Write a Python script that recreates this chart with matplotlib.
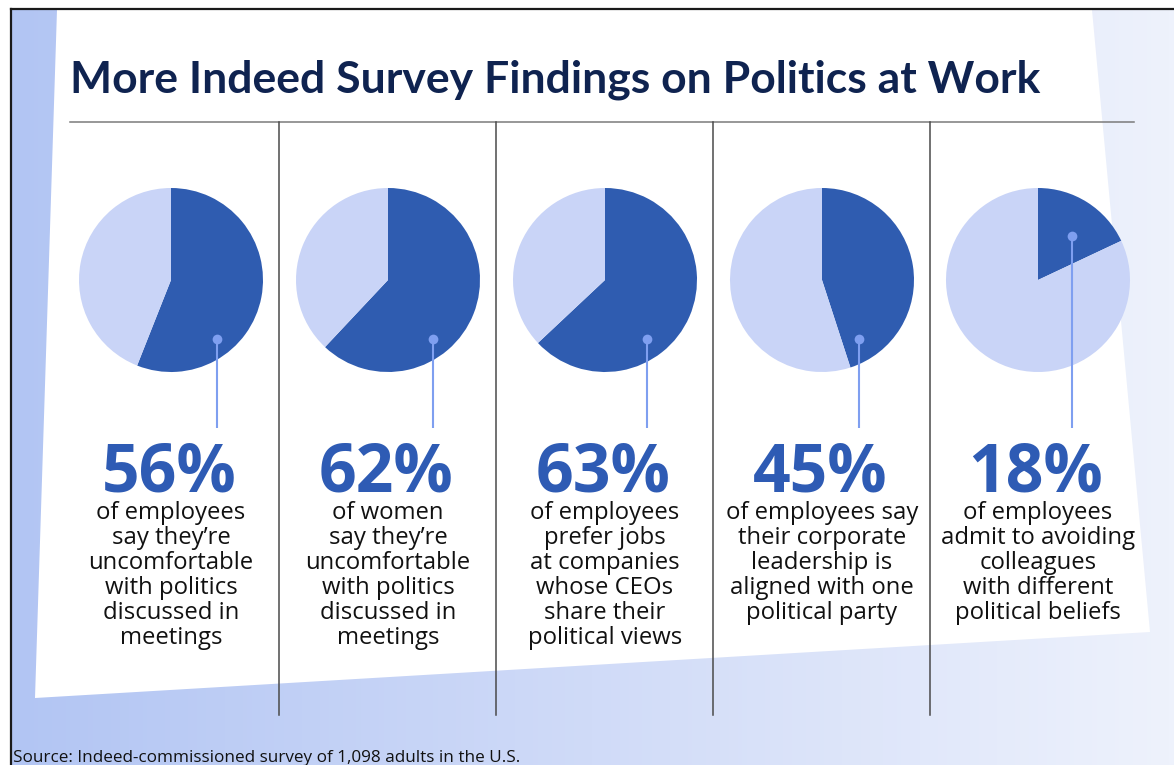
import matplotlib.pyplot as plt
import numpy as np
from matplotlib.colors import LinearSegmentedColormap
from matplotlib.patches import Polygon

title = "More Indeed Survey Findings on Politics at Work"
source = "Source: Indeed-commissioned survey of 1,098 adults in the U.S."

percents = [56, 62, 63, 45, 18]
descriptions = [
    ["of employees", "say they\u2019re", "uncomfortable", "with politics", "discussed in", "meetings"],
    ["of women", "say they\u2019re", "uncomfortable", "with politics", "discussed in", "meetings"],
    ["of employees", "prefer jobs", "at companies", "whose CEOs", "share their", "political views"],
    ["of employees say", "their corporate", "leadership is", "aligned with one", "political party"],
    ["of employees", "admit to avoiding", "colleagues", "with different", "political beliefs"],
]

dark = "#2f5cb0"
light = "#c9d4f7"
line_col = "#7f9ff0"
navy = "#0f2350"

W, H = 1174, 765
fig = plt.figure(figsize=(W / 100, H / 100), dpi=100)

# background layer, pixel coordinates
bg = fig.add_axes([0, 0, 1, 1])
bg.set_xlim(0, W)
bg.set_ylim(H, 0)
bg.axis("off")

cmap = LinearSegmentedColormap.from_list("bgblue", ["#b2c5f3", "#d0dbf8", "#eef2fc"])
grad = np.linspace(0, 1, 256).reshape(1, -1)
bg.imshow(grad, cmap=cmap, extent=(11, W, H, 9), aspect="auto", zorder=0)
bg.add_patch(Polygon([(57, 10), (1092, 10), (1150, 632), (35, 698)],
                     closed=True, facecolor="white", edgecolor="none", zorder=1))
bg.plot([11, W], [9, 9], color="#1a1a1a", lw=1.6, zorder=3)
bg.plot([11, 11], [9, H], color="#1a1a1a", lw=1.6, zorder=3)

bg.text(70, 92, title, fontsize=32, fontweight="bold", family="Lato",
        color=navy, va="baseline", ha="left", zorder=4)
bg.plot([70, 1134], [122, 122], color="#7a7a7a", lw=1.1, zorder=3)
for x in [279, 496, 713, 930]:
    bg.plot([x, x], [122, 715], color="#4a4a4a", lw=1.1, zorder=3)

bg.text(13, 762, source, fontsize=12.3, family="Open Sans", color="#111111",
        va="baseline", ha="left", zorder=4)

# pies
centers = [171, 388, 605, 822, 1038]
cy, r = 280, 92
for cx, p in zip(centers, percents):
    pax = fig.add_axes([(cx - r) / W, 1 - (cy + r) / H, 2 * r / W, 2 * r / H])
    pax.pie([p, 100 - p], colors=[dark, light], startangle=90,
            counterclock=False, radius=1, frame=True)
    pax.set_xlim(-1, 1)
    pax.set_ylim(-1, 1)
    pax.axis("off")

# overlay for leader lines and text
ov = fig.add_axes([0, 0, 1, 1])
ov.set_xlim(0, W)
ov.set_ylim(H, 0)
ov.patch.set_alpha(0)
ov.axis("off")

dot_dx = [46, 45, 42, 37, 34]
dot_dy = [59, 59, 59, 59, -44]
for i, (cx, p) in enumerate(zip(centers, percents)):
    x0, y0 = cx + dot_dx[i], cy + dot_dy[i]
    ov.plot([x0, x0], [y0, 428], color=line_col, lw=1.5, solid_capstyle="butt")
    ov.plot([x0], [y0], "o", color=line_col, markersize=7, markeredgewidth=0)
    ov.text(cx - 2, 491, f"{p}%", fontsize=47.5, fontweight="bold", family="Open Sans",
            color="#2e5bb4", ha="center", va="baseline")
    for j, line in enumerate(descriptions[i]):
        ov.text(cx, 519 + 25 * j, line, fontsize=17.2, family="Open Sans",
                fontweight="medium", color="#111111", ha="center", va="baseline")

fig.savefig("out.png", dpi=100)
